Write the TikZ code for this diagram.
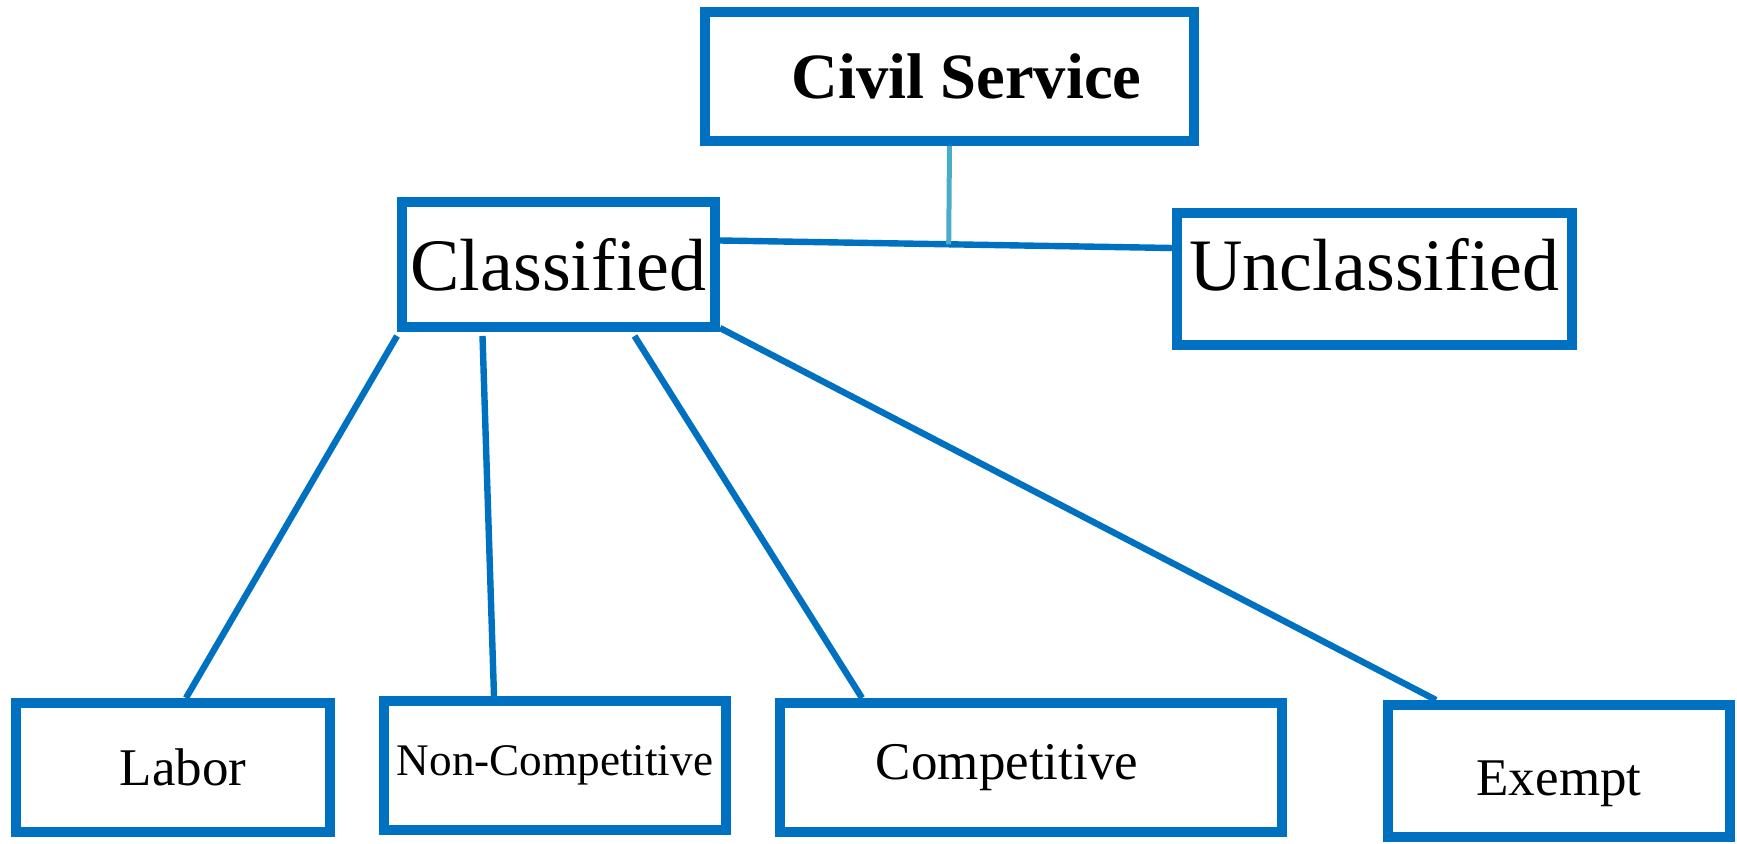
\documentclass[tikz,border=0pt]{standalone}
\usepackage{fontspec}
\setmainfont{Liberation Serif}
\definecolor{boxblue}{HTML}{0070C0}
\definecolor{linkcyan}{HTML}{4BACC6}
\begin{document}
\begin{tikzpicture}[x=0.5pt, y=-0.5pt,
		box/.style={draw=boxblue, line width=5pt, inner sep=0pt, minimum height=64.5pt},
		link/.style={draw=boxblue, line width=3.2pt}]
	\useasboundingbox (0,0) rectangle (1737,844);
	\node [box, minimum width=244.5pt, font=\fontsize{32.3}{36}\selectfont\bfseries] (civil) at (949.5,76.5) {\hspace*{17pt}Civil Service};
	\node [box, minimum width=156.5pt, minimum height=62.5pt, font=\fontsize{37}{40}\selectfont] (cls) at (558.5,264.5) {Classified};
	\node [box, minimum width=197.5pt, minimum height=66pt, text height=25pt, text depth=13pt, font=\fontsize{37}{40}\selectfont] (uncls) at (1374.5,279) {Unclassified};
	\node [box, minimum width=157pt, font=\fontsize{26.5}{30}\selectfont] (labor) at (173,767.5) {\hspace*{10pt}Labor};
	\node [box, minimum width=171pt, font=\fontsize{22.6}{26}\selectfont] (noncomp) at (555,765.5) {Non-Competitive};
	\node [box, minimum width=251pt, font=\fontsize{26.5}{30}\selectfont] (comp) at (1031,767.5) {Competitive\hspace*{24pt}};
	\node [box, minimum width=171pt, minimum height=66pt, text height=30.5pt, text depth=5.75pt, font=\fontsize{26.5}{30}\selectfont] (exempt) at (1559,771) {Exempt};
	\path ([yshift=12pt]cls.east) -- ([yshift=15.5pt]uncls.west) coordinate [pos=0.506] (join);
	\draw [link] ([yshift=12pt]cls.east) -- ([yshift=15.5pt]uncls.west);
	\draw [linkcyan, line width=2.5pt] (civil.south) -- (join);
	\draw [link] ([yshift=-2pt]cls.south west) -- ([xshift=6.5pt]labor.north);
	\draw [link] ([xshift=-38pt, yshift=-2pt]cls.south) -- ([xshift=-30.5pt]noncomp.north);
	\draw [link] ([xshift=38pt, yshift=-2pt]cls.south) -- ([xshift=-84.5pt]comp.north);
	\draw [link] ([yshift=2pt]cls.south east) -- ([xshift=-61.5pt]exempt.north);
\end{tikzpicture}
\end{document}
